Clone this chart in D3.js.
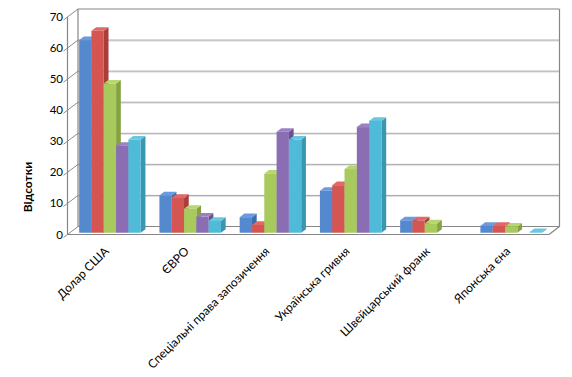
<!DOCTYPE html>
<meta charset="utf-8">
<html lang="uk">
<head>
    <script src="https://d3js.org/d3.v7.min.js"></script>
    <style>
        body { margin: 0; background: #fff; }
        svg { display: block; }
    </style>
</head>
<body>
    <svg></svg>
</body>
</html>
<script>
    // data (percent)
    const categories = ["Долар США", "ЄВРО", "Спеціальні права запозичення", "Українська гривня", "Швейцарський франк", "Японська єна"];
    const seriesNames = ["s1", "s2", "s3", "s4", "s5"];
    const s1 = [62, 12, 5, 13.5, 4, 2.2];
    const s2 = [65, 11.2, 2.5, 15.3, 4, 2.2];
    const s3 = [48, 7.7, 19, 20.5, 3, 2];
    const s4 = [28, 5.2, 32.5, 34, null, null];
    const s5 = [30, 3.8, 30, 36, null, 0.2];
    const yTicks = [0, 10, 20, 30, 40, 50, 60, 70];

    const seriesValues = [s1, s2, s3, s4, s5];
    const faceColors = ["#5589cf", "#d45552", "#a8c95c", "#8a6db3", "#4fbbd9"];
    const sideColors = ["#3d6ca8", "#a83d3a", "#84a340", "#6a5190", "#3a97b0"];
    const topColors = ["#6b9ade", "#e06966", "#b8d66e", "#9b80c2", "#68c8e2"];

    const width = 572, height = 377;
    const DX = 10.5, DY = -8;          // depth of the floor
    const tFront = 0.22, tBack = 0.67; // depth of the bars

    let svg = d3.select("svg").attr("width", width).attr("height", height);

    let y = d3.scaleLinear().domain([0, 70]).range([234.5, 17]);
    let x = d3.scaleBand().domain(categories).range([67.5, 549]);
    let xs = d3.scaleBand().domain(seriesNames).range([0, x.bandwidth()]).paddingOuter(0.76).paddingInner(0);

    const px = (xv, t) => xv + t * DX;
    const py = (v, t) => y(v) + t * DY;

    let frame = svg.append("g");
    const gridColor = "#a6a6a6";
    const left = x.range()[0], right = x.range()[1];

    // gridlines on back wall and left side wall
    yTicks.forEach(v => {
        if (v > 0 && v < 70) {
            frame.append("line")
                .attr("x1", px(left, 1)).attr("x2", px(right, 1))
                .attr("y1", py(v, 1) + 1).attr("y2", py(v, 1) + 1)
                .attr("stroke", "#dedede");
            frame.append("line")
                .attr("x1", px(left, 1)).attr("x2", px(right, 1))
                .attr("y1", py(v, 1)).attr("y2", py(v, 1))
                .attr("stroke", gridColor);
        }
        // left wall line + tick
        frame.append("line")
            .attr("x1", left - 4).attr("y1", y(v) + 3)
            .attr("x2", px(left, 1)).attr("y2", py(v, 1))
            .attr("stroke", "#8c8c8c");
    });

    const edge = "#868686";
    const seg = (x1, y1, x2, y2) => frame.append("line")
        .attr("x1", x1).attr("y1", y1).attr("x2", x2).attr("y2", y2)
        .attr("stroke", edge).attr("stroke-width", 1.2);
    // back wall
    seg(px(left, 1), py(70, 1), px(right, 1), py(70, 1));
    seg(px(right, 1), py(70, 1), px(right, 1), py(0, 1));
    seg(px(left, 1), py(70, 1), px(left, 1), py(0, 1));
    // floor
    seg(px(left, 1), py(0, 1), px(right, 1), py(0, 1));
    seg(left, y(0), right, y(0));
    seg(right, y(0), px(right, 1), py(0, 1));
    // front axis
    seg(left, y(70), left, y(0));

    // tick labels
    svg.append("g").selectAll("text")
        .data(yTicks).enter().append("text")
        .attr("x", 63).attr("y", d => y(d) + 4)
        .attr("text-anchor", "end")
        .style("font-family", "Lato, 'Open Sans', sans-serif")
        .style("font-size", "11.5px")
        .text(d => d);

    svg.append("text")
        .attr("transform", "translate(32,187) rotate(-90)")
        .attr("text-anchor", "middle")
        .style("font-family", "Lato, 'Open Sans', sans-serif")
        .style("font-size", "12px")
        .style("font-weight", "bold")
        .text("Відсотки");

    // bars
    let bars = svg.append("g");
    categories.forEach((c, ci) => {
        seriesNames.forEach((s, si) => {
            const v = seriesValues[si][ci];
            if (v === null) return;
            const x0 = x(c) + xs(s), x1 = x0 + xs.bandwidth();
            const g = bars.append("g");
            // side
            g.append("path")
                .attr("d", `M${px(x1, tFront)},${py(0, tFront)} L${px(x1, tBack)},${py(0, tBack)} L${px(x1, tBack)},${py(v, tBack)} L${px(x1, tFront)},${py(v, tFront)} Z`)
                .attr("fill", sideColors[si]);
            // top
            g.append("path")
                .attr("d", `M${px(x0, tFront)},${py(v, tFront)} L${px(x1, tFront)},${py(v, tFront)} L${px(x1, tBack)},${py(v, tBack)} L${px(x0, tBack)},${py(v, tBack)} Z`)
                .attr("fill", topColors[si]);
            // front
            g.append("rect")
                .attr("x", px(x0, tFront))
                .attr("y", py(v, tFront))
                .attr("width", xs.bandwidth())
                .attr("height", py(0, tFront) - py(v, tFront))
                .attr("fill", faceColors[si]);
        });
    });

    // category labels
    svg.append("g").selectAll("text")
        .data(categories).enter().append("text")
        .attr("transform", d => `translate(${x(d) + x.bandwidth() / 2 + 2},252) rotate(-45)`)
        .attr("text-anchor", "end")
        .style("font-family", "Lato, 'Open Sans', sans-serif")
        .style("font-size", "12px")
        .text(d => d);
</script>
